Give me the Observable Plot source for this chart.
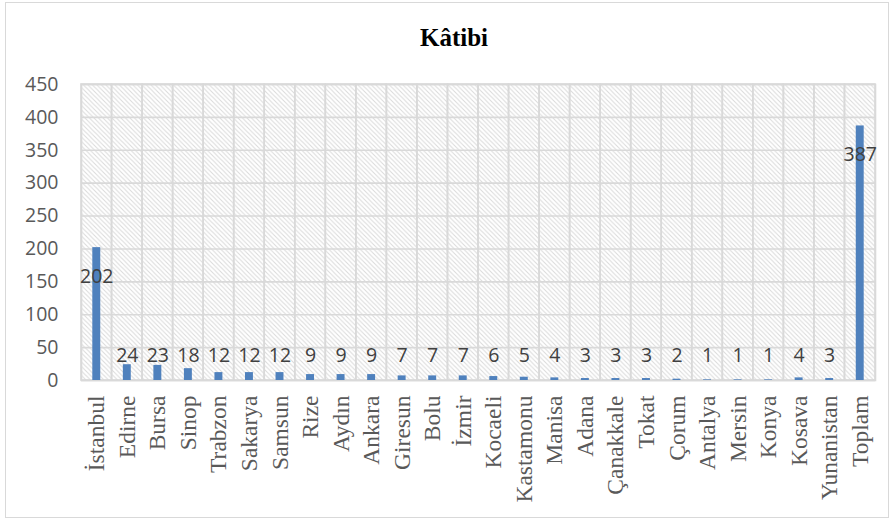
<!DOCTYPE html>
<html>
<head>
<meta charset="utf-8">
<script src="https://cdn.jsdelivr.net/npm/d3@7"></script>
<script src="https://cdn.jsdelivr.net/npm/@observablehq/plot@0.6"></script>
<style>
  html, body { margin: 0; padding: 0; background: #fff; }
  #wrap { position: relative; width: 896px; height: 524px; overflow: hidden; }
  #border { position: absolute; left: 5px; top: 2px; width: 884px; height: 516px; border: 1.5px solid #d9d9d9; box-sizing: border-box; pointer-events: none; }
  #title { box-sizing: border-box; height: 60px; padding-top: 25px; padding-left: 12px; width: 896px; text-align: center;
           font: bold 25px/25px "Liberation Serif", "Times New Roman", serif; color: #000; }
  g[aria-label="x-axis tick label"] text { font-family: "Liberation Serif", "Times New Roman", serif; }
  g[aria-label="x-axis tick label"] { fill: #595959; }
  g[aria-label="y-axis tick label"] { fill: #595959; }
</style>
</head>
<body>
<div id="wrap">
  <div id="title">Kâtibi</div>
  <div id="chart"></div>
  <div id="border"></div>
</div>
<script>
const categories = ["İstanbul","Edirne","Bursa","Sinop","Trabzon","Sakarya","Samsun","Rize","Aydın","Ankara","Giresun","Bolu","İzmir","Kocaeli","Kastamonu","Manisa","Adana","Çanakkale","Tokat","Çorum","Antalya","Mersin","Konya","Kosava","Yunanistan","Toplam"];
const values = [202,24,23,18,12,12,12,9,9,9,7,7,7,6,5,4,3,3,3,2,1,1,1,4,3,387];
const yTicks = [0,50,100,150,200,250,300,350,400,450];

const data = categories.map((c, i) => ({category: c, value: values[i]}));
const grid = "#d9d9d9";
const sans = "'Open Sans', 'Noto Sans', sans-serif";

const svg = Plot.plot({
  width: 896,
  height: 464,
  marginTop: 24,
  marginBottom: 144,
  marginLeft: 81,
  marginRight: 21,
  style: {background: "transparent", overflow: "visible"},
  x: {domain: categories, padding: 0, round: false, label: null},
  y: {domain: [0, 450], label: null},
  marks: [
    Plot.frame({fill: "url(#hatch)"}),
    Plot.gridY(yTicks, {stroke: grid, strokeOpacity: 1, strokeWidth: 1.6}),
    Plot.cell(categories, {x: d => d, fill: "none", stroke: grid, strokeWidth: 1.6}),
    Plot.frame({stroke: grid, strokeWidth: 1.6}),
    Plot.barY(data, {x: "category", y: "value", fill: "#4f81bd", insetLeft: 11.3, insetRight: 11.3}),
    Plot.text(data.filter(d => d.value >= 100), {x: "category", y: "value", text: d => String(d.value), dy: 29,
      fill: "#404040", fontSize: 19.5, fontFamily: sans}),
    Plot.text(data.filter(d => d.value < 100), {x: "category", frameAnchor: "bottom", text: d => String(d.value), dy: -19,
      fill: "#404040", fontSize: 19.5, fontFamily: sans}),
    Plot.axisY({ticks: yTicks, tickSize: 0, tickPadding: 23, fontSize: 19.5, fontFamily: sans, label: null}),
    Plot.axisX({tickSize: 0, tickRotate: -90, tickPadding: 15, fontSize: 23.5, label: null})
  ]
});

d3.select(svg).insert("defs", ":first-child").html(
  `<pattern id="hatch" patternUnits="userSpaceOnUse" width="4.5" height="4.5">
     <rect width="4.5" height="4.5" fill="#ffffff"/>
     <path d="M0,0L4.5,4.5M-1.2,3.3L1.2,5.7M3.3,-1.2L5.7,1.2" stroke="#dadada" stroke-width="1"/>
   </pattern>`
);

document.getElementById("chart").appendChild(svg);
</script>
</body>
</html>
